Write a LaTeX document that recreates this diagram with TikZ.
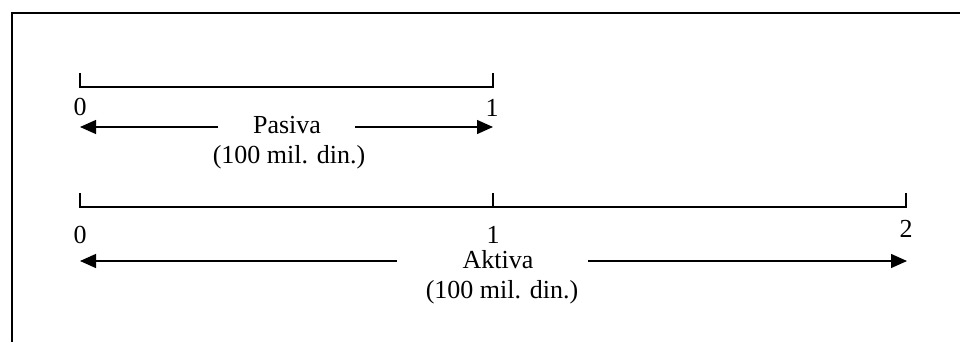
\documentclass[tikz,border=0pt]{standalone}
\usepackage{fontspec}
\setmainfont{Liberation Serif}
\usetikzlibrary{arrows.meta}
\begin{document}
\begin{tikzpicture}[x=1pt,y=-1pt,
  bar/.style={line width=1.3pt},
  framestyle/.style={line width=2pt},
  arr/.style={line width=1.3pt,-{Triangle[length=16pt,width=14pt]}},
  lbl/.style={anchor=base,inner sep=0pt,font=\fontsize{26}{30}\selectfont}]
\useasboundingbox (0,0) rectangle (960,342);
% frame (cut off at right and bottom)
\coordinate (fbl) at (11.5,342);
\coordinate (ftl) at (11.5,13);
\coordinate (ftr) at (960,13);
\draw[framestyle] (fbl) -- (ftl) -- (ftr);
% Pasiva bar
\coordinate (p0t) at (80,73);
\coordinate (p0) at (80,87);
\coordinate (p1) at (493,87);
\coordinate (p1t) at (493,73);
\draw[bar] (p0t) -- (p0) -- (p1) -- (p1t);
\node[lbl] (pz) at (80,116) {0};
\node[lbl] (po) at (492,117) {1};
\node[lbl] (pas) at (287,133) {Pasiva};
\node[lbl] (pasv) at (289,163) {(100 mil. din.)};
\coordinate (pal) at (218,127);
\coordinate (par) at (355,127);
\coordinate (patl) at (80,127);
\coordinate (patr) at (493,127);
\draw[arr] (pal) -- (patl);
\draw[arr] (par) -- (patr);
% Aktiva bar
\coordinate (a0t) at (80,193);
\coordinate (a0) at (80,207);
\coordinate (a1) at (493,207);
\coordinate (a1t) at (493,193);
\coordinate (a2) at (906,207);
\coordinate (a2t) at (906,193);
\draw[bar] (a0t) -- (a0) -- (a2) -- (a2t);
\draw[bar] (a1) -- (a1t);
\node[lbl] (az) at (80,243) {0};
\node[lbl] (ao) at (493,243) {1};
\node[lbl] (at) at (906,237) {2};
\node[lbl] (akt) at (498,268) {Aktiva};
\node[lbl] (aktv) at (502,298) {(100 mil. din.)};
\coordinate (aal) at (397,261);
\coordinate (aar) at (588,261);
\coordinate (aatl) at (80,261);
\coordinate (aatr) at (907,261);
\draw[arr] (aal) -- (aatl);
\draw[arr] (aar) -- (aatr);
\end{tikzpicture}
\end{document}
